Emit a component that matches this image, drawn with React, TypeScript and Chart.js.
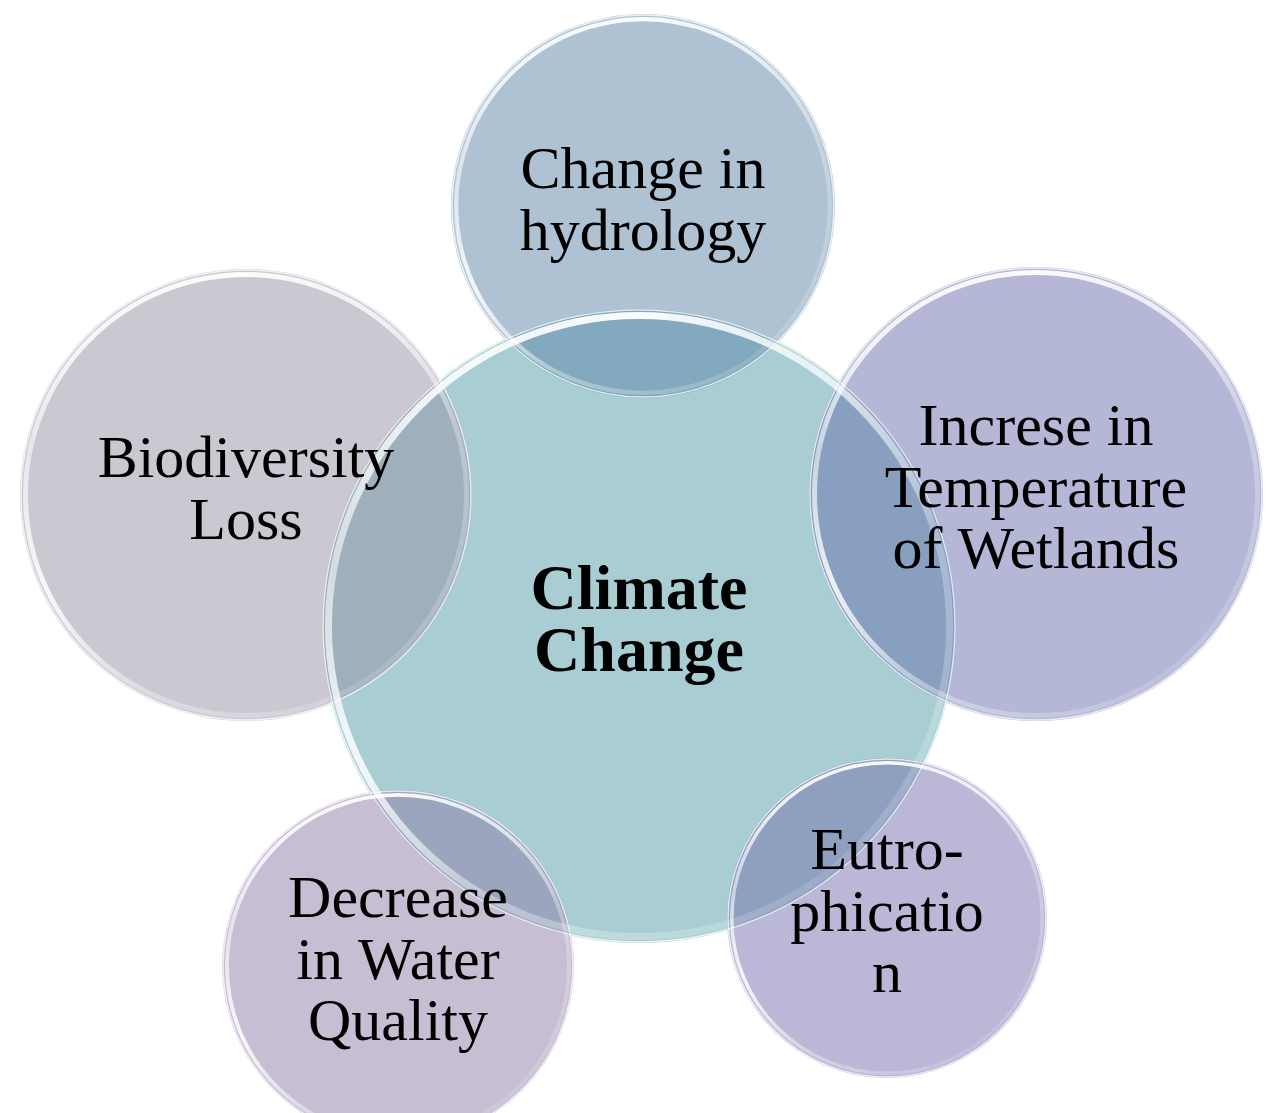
import React, { useEffect, useRef } from "react";
import { Chart, registerables } from "chart.js";

Chart.register(...registerables);

// Bubble labels (multi-line text as in the picture)
const labels: string[][] = [
  ["Climate", "Change"],
  ["Change in", "hydrology"],
  ["Biodiversity", "Loss"],
  ["Increse in", "Temperature", "of Wetlands"],
  ["Decrease", "in Water", "Quality"],
  ["Eutro-", "phicatio", "n"],
];
// Bubble centres and radii
const xValues = [639, 643, 246, 1036, 398, 887];
const yValues = [626, 206, 495, 494, 966, 918];
const radii = [317, 192, 226, 227, 176, 160];

const fillColors = [
  "rgba(81,157,169,0.5)",
  "rgba(93,133,167,0.5)",
  "rgba(153,145,165,0.5)",
  "rgba(105,113,173,0.5)",
  "rgba(145,125,169,0.5)",
  "rgba(117,113,173,0.5)",
];

export default function App() {
  const ref = useRef<HTMLCanvasElement>(null);

  useEffect(() => {
    document.body.style.margin = "0";
    const canvas = ref.current;
    if (!canvas) return;

    const rimPlugin = {
      id: "bubbleRims",
      afterDatasetsDraw(chart: any) {
        const ctx: CanvasRenderingContext2D = chart.ctx;
        const meta = chart.getDatasetMeta(0);
        // glossy rims
        meta.data.forEach((el: any) => {
          const x = el.x;
          const y = el.y;
          const r = el.options.radius;
          ctx.save();
          ctx.beginPath();
          ctx.arc(x, y, r - 1, 0, Math.PI * 2);
          ctx.strokeStyle = "rgba(255,255,255,0.75)";
          ctx.lineWidth = 1.5;
          ctx.stroke();
          const bw = Math.max(3, r * 0.022);
          const g = (ctx as any).createConicGradient(0, x, y);
          const stops: [number, number][] = [
            [0, 0.25],
            [0.15, 0.12],
            [0.33, 0.35],
            [0.43, 0.85],
            [0.53, 0.55],
            [0.63, 0.85],
            [0.75, 0.95],
            [0.86, 0.7],
            [0.95, 0.3],
            [1, 0.25],
          ];
          stops.forEach(([p, a]) => g.addColorStop(p, `rgba(255,255,255,${a})`));
          ctx.beginPath();
          ctx.arc(x, y, r - 3 - bw / 2, 0, Math.PI * 2);
          ctx.strokeStyle = g;
          ctx.lineWidth = bw;
          ctx.stroke();
          ctx.restore();
        });
        // labels
        meta.data.forEach((el: any, i: number) => {
          const lines = labels[i];
          const bold = i === 0;
          const size = bold ? 64 : 60;
          const lh = bold ? 62 : 61.5;
          ctx.save();
          ctx.font = `${bold ? "bold " : ""}${size}px "Liberation Serif", "Times New Roman", serif`;
          ctx.fillStyle = "#000";
          ctx.textAlign = "center";
          ctx.textBaseline = "middle";
          const n = lines.length;
          lines.forEach((t, k) => {
            ctx.fillText(t, el.x, el.y - 3 + (k - (n - 1) / 2) * lh);
          });
          ctx.restore();
        });
      },
    };

    const chart = new Chart(canvas, {
      type: "bubble",
      data: {
        datasets: [
          {
            data: xValues.map((x, i) => ({ x, y: yValues[i], r: radii[i] })),
            backgroundColor: fillColors,
            borderWidth: 0,
            hoverRadius: 0,
            clip: false,
          } as any,
        ],
      },
      options: {
        responsive: false,
        animation: false,
        events: [],
        layout: { padding: 0, autoPadding: false },
        plugins: {
          legend: { display: false },
          tooltip: { enabled: false },
        },
        scales: {
          x: { type: "linear", min: 0, max: 1271, display: false },
          y: { type: "linear", min: 0, max: 1113, reverse: true, display: false },
        },
      } as any,
      plugins: [rimPlugin],
    });

    return () => chart.destroy();
  }, []);

  return (
    <canvas
      ref={ref}
      width={1271}
      height={1113}
      style={{ display: "block", width: 1271, height: 1113 }}
    />
  );
}
